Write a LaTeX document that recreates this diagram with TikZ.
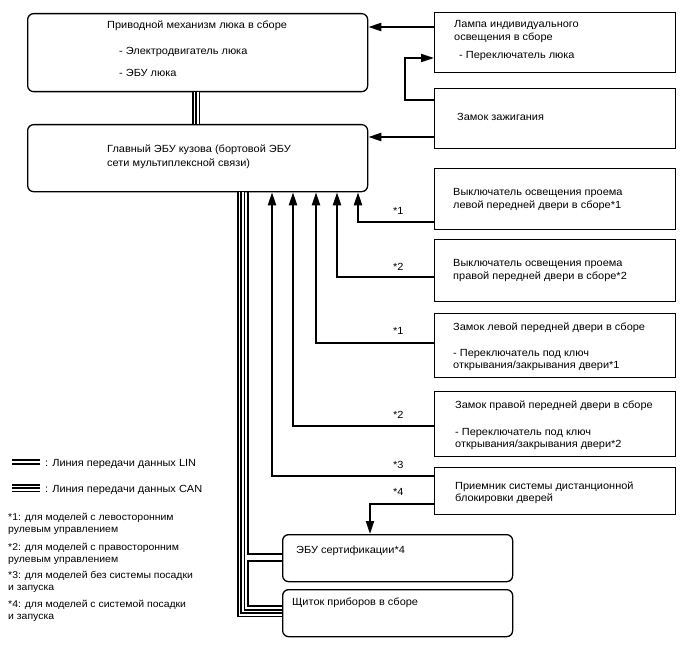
\documentclass[tikz,border=0pt]{standalone}
\usepackage{fontspec}
\setmainfont{Liberation Sans}[FakeStretch=1.06]
\usetikzlibrary{arrows.meta}
\begin{document}
\begin{tikzpicture}[x=1pt,y=-1pt,
  font=\fontsize{10.35}{12}\selectfont,
  rbox/.style={draw, line width=1.3pt, rounded corners=6pt, anchor=north west, inner sep=0pt, minimum width=#1},
  sbox/.style={draw, line width=1.3pt, anchor=north west, inner sep=0pt, minimum width=241pt},
  txt/.style={anchor=base west, inner sep=0pt},
  fn/.style={anchor=base west, inner sep=0pt, font=\fontsize{9.85}{12}\selectfont},
  sig/.style={line width=2pt, -{Triangle[length=13pt,width=8pt]}},
  lin/.style={draw, line width=2pt, double=white, double distance=1.6pt},
  can/.style={draw, line width=8pt, postaction={draw=white, line width=5pt}, postaction={draw=black, line width=2pt}},
  bus/.style={draw, line width=2.2pt}]
\useasboundingbox (0,0) rectangle (688,658);

% boxes
\node[rbox=340pt, minimum height=78pt] (sun) at (27,13) {};
\node[rbox=340pt, minimum height=67pt] (main) at (27,124) {};
\node[sbox, minimum height=60pt] (lamp) at (434,12) {};
\node[sbox, minimum height=60pt] (ign) at (434,88) {};
\node[sbox, minimum height=61pt] (b1) at (434,168) {};
\node[sbox, minimum height=62pt] (b2) at (434,239) {};
\node[sbox, minimum height=64pt] (b3) at (434,313) {};
\node[sbox, minimum height=65pt] (b4) at (434,391) {};
\node[sbox, minimum height=47pt] (b5) at (434,467) {};
\node[rbox=230pt, minimum height=47pt] (cert) at (282,534) {};
\node[rbox=230pt, minimum height=47pt] (meter) at (282,589) {};

% texts
\node[txt] (t1) at (107,29) {Приводной механизм люка в сборе};
\node[txt] (t2) at (119,55) {- Электродвигатель люка};
\node[txt] (t3) at (119,77) {- ЭБУ люка};
\node[txt] (t4) at (107,153) {Главный ЭБУ кузова (бортовой ЭБУ};
\node[txt] (t5) at (107,167) {сети мультиплексной связи)};
\node[txt] (t6) at (454,28) {Лампа индивидуального};
\node[txt] (t7) at (454,41) {освещения в сборе};
\node[txt] (t8) at (459,59) {- Переключатель люка};
\node[txt] (t9) at (457,121) {Замок зажигания};
\node[txt] (t10) at (453,195) {Выключатель освещения проема};
\node[txt] (t11) at (453,208) {левой передней двери в сборе*1};
\node[txt] (t12) at (453,266) {Выключатель освещения проема};
\node[txt] (t13) at (453,279) {правой передней двери в сборе*2};
\node[txt] (t14) at (453,330) {Замок левой передней двери в сборе};
\node[txt] (t15) at (453,356) {- Переключатель под ключ};
\node[txt] (t16) at (453,368) {открывания/закрывания двери*1};
\node[txt] (t17) at (455,408) {Замок правой передней двери в сборе};
\node[txt] (t18) at (455,435) {- Переключатель под ключ};
\node[txt] (t19) at (455,447) {открывания/закрывания двери*2};
\node[txt] (t20) at (455,489) {Приемник системы дистанционной};
\node[txt] (t21) at (455,501) {блокировки дверей};
\node[txt] (t22) at (296,553) {ЭБУ сертификации*4};
\node[txt] (t23) at (292,605) {Щиток приборов в сборе};

% labels
\node[txt] (l1) at (393,214) {*1};
\node[txt] (l2) at (393,270) {*2};
\node[txt] (l3) at (393,334) {*1};
\node[txt] (l4) at (393,418) {*2};
\node[txt] (l5) at (393,468) {*3};
\node[txt] (l6) at (393,495) {*4};

% signal connectors
\draw[sig] ([yshift=-15pt]lamp.north west) -- ([yshift=-15pt]lamp.north west -| sun.east);
\draw[sig] ([yshift=-49pt]ign.north west) -- ([yshift=-49pt]ign.north west -| main.east);
\draw[sig] ([yshift=-12pt]ign.north west) -- ++(-29,0) |- ([yshift=-46pt]lamp.north west);
\draw[sig] ([yshift=-54pt]b1.north west) -| ([xshift=331pt]main.south west);
\draw[sig] ([yshift=-38pt]b2.north west) -| ([xshift=310pt]main.south west);
\draw[sig] ([yshift=-30pt]b3.north west) -| ([xshift=289pt]main.south west);
\draw[sig] ([yshift=-35pt]b4.north west) -| ([xshift=266pt]main.south west);
\draw[sig] ([yshift=-9pt]b5.north west) -| ([xshift=245pt]main.south west);
\draw[sig] ([yshift=-37pt]b5.north west) -| ([xshift=88pt]cert.north west);

% bus lines
\draw[can] ([xshift=169pt]sun.south west) -- ([xshift=169pt]main.north west);
\draw[bus] ([xshift=221pt]main.south west) |- ([yshift=-20pt]cert.north west);
\draw[bus] ([yshift=-27pt]cert.north west) -- ++(-34,0) |- ([yshift=-17pt]meter.north west);
\draw[can] ([xshift=214pt]main.south west) |- ([yshift=-24pt]meter.north west);

% legend
\coordinate (linA) at (12,462);
\coordinate (linB) at (40,462);
\coordinate (canA) at (12,488);
\coordinate (canB) at (40,488);
\draw[lin] (linA) -- (linB);
\draw[can] (canA) -- (canB);
\node[txt] (g1) at (45,466) {: Линия передачи данных LIN};
\node[txt] (g2) at (45,492) {: Линия передачи данных CAN};
\node[fn] (f1) at (8,520) {*1: для моделей с левосторонним};
\node[fn] (f2) at (8,532) {рулевым управлением};
\node[fn] (f3) at (8,550) {*2: для моделей с правосторонним};
\node[fn] (f4) at (8,562) {рулевым управлением};
\node[fn] (f5) at (8,578) {*3: для моделей без системы посадки};
\node[fn] (f6) at (8,590) {и запуска};
\node[fn] (f7) at (8,607) {*4: для моделей с системой посадки};
\node[fn] (f8) at (8,619) {и запуска};
\end{tikzpicture}
\end{document}
